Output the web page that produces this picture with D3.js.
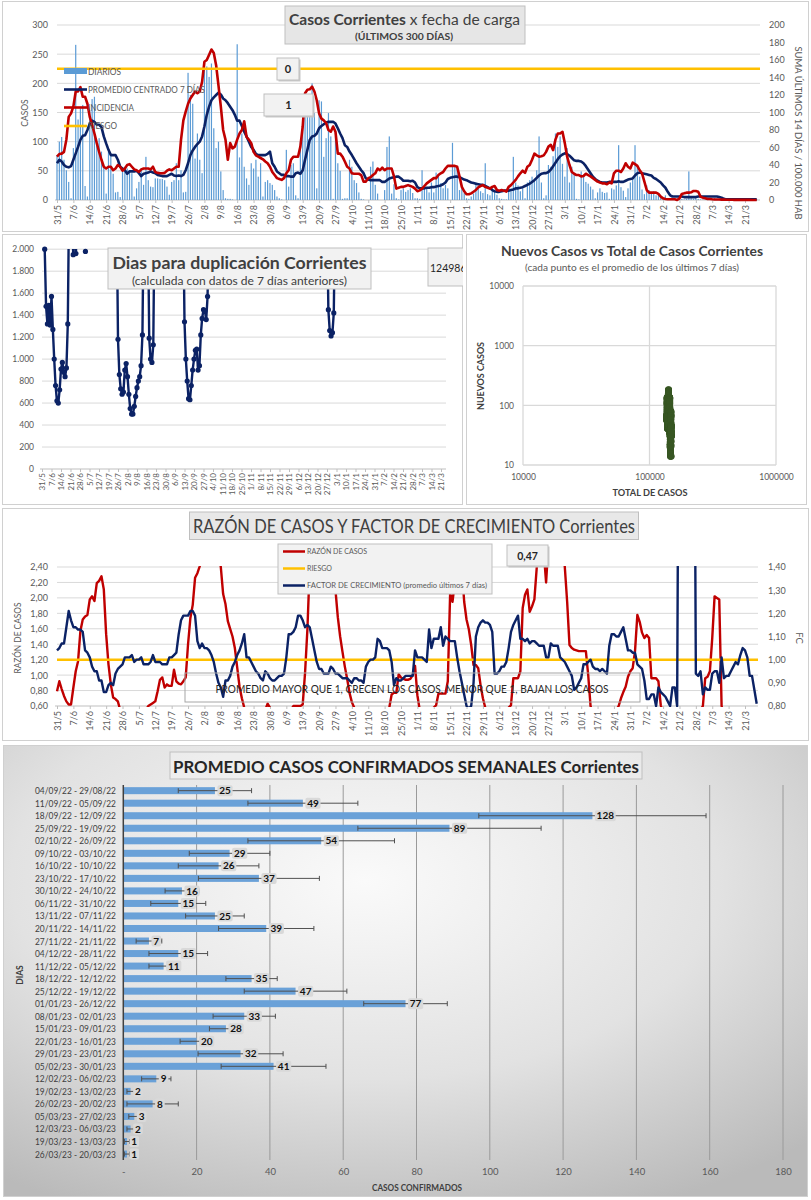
<!DOCTYPE html>
<html>
<head>
<meta charset="utf-8">
<script src="https://cdnjs.cloudflare.com/ajax/libs/d3/7.8.5/d3.min.js"></script>
<style>
body { margin: 0; background: #fff; }
svg text { font-family: Lato, "Liberation Sans", sans-serif; }
</style>
</head>
<body>
<svg id="board" width="811" height="1200"></svg>
<script>
// etiquetas del eje de fechas (una cada 7 dias desde 31/5)
var fechaTicks = ["31/5","7/6","14/6","21/6","28/6","5/7","12/7","19/7","26/7","2/8","9/8","16/8","23/8","30/8",
  "6/9","13/9","20/9","27/9","4/10","11/10","18/10","25/10","1/11","8/11","15/11","22/11","29/11","6/12",
  "13/12","20/12","27/12","3/1","10/1","17/1","24/1","31/1","7/2","14/2","21/2","28/2","7/3","14/3","21/3"];

// casos diarios (300 dias)
var diarios = [
  77,100,108,69,51,31,3,      89,266,138,157,163,24,6,    154,173,177,96,106,83,57,   11,83,80,45,13,14,5,
  51,57,54,51,46,6,20,        31,54,26,74,34,23,22,       37,37,36,36,34,23,9,        31,34,63,34,51,13,14,
  218,180,165,71,114,69,46,   233,229,211,234,123,89,100, 49,17,3,2,2,1,0,            267,73,114,57,37,26,63,
  54,69,40,63,6,31,34,        29,26,17,6,3,1,0,           86,23,60,63,8,3,100,        143,160,143,149,200,149,20,
  171,169,74,106,149,109,2,   109,63,50,2,3,3,69,         57,34,29,13,2,1,0,          0,57,66,26,11,0,0,
  17,91,109,11,27,3,1,        17,20,14,17,20,12,3,        3,2,51,23,20,13,30,         13,47,43,29,20,26,20,
  0,98,60,57,17,25,12,        3,2,6,11,30,20,15,          12,63,10,8,20,15,9,         3,2,1,1,20,15,74,
  30,25,15,20,3,30,34,        40,34,51,109,30,3,8,        60,57,75,114,91,109,62,     40,89,30,57,45,2,1,
  49,40,31,28,23,18,3,        13,20,14,12,13,2,20,        18,25,94,22,16,5,20,        30,35,94,60,40,18,10,
  25,17,13,15,8,9,5,          3,8,2,2,1,0,1,              3,2,1,2,49,3,2,             4,2,1,1,1,2,1,
  1,3,2,1,1,1,0,              1,0,1,1,0,1,0,              1,0,1,0,1,1
];

// promedio centrado 7 dias
var promedio7 = [
  63,69,66,60,57,56,58,  69,80,91,103,110,111,120,  131,136,134,129,129,125,109,  97,86,77,77,77,69,57,
  54,51,45,49,49,49,50,  46,41,45,46,47,49,47,  46,43,42,41,41,41,43,  45,42,41,42,41,43,51,
  63,77,85,91,96,100,109,  126,146,160,171,176,180,184,  181,174,171,166,160,154,146,  136,136,127,117,109,100,91,
  86,79,77,77,77,77,79,  83,63,57,49,46,43,43,  41,41,40,40,46,47,45,  51,69,86,103,109,110,114,
  123,127,130,133,134,134,134,  131,123,114,106,94,91,83,  77,70,63,57,51,46,37,  35,34,34,34,34,34,31,
  31,34,37,38,39,40,40,  37,33,33,33,32,33,30,  22,20,20,20,21,21,22,  22,23,24,25,27,30,36,
  38,39,40,40,39,37,35,  34,32,30,29,28,27,26,  26,24,22,20,17,15,14,  14,15,16,16,16,17,18,
  20,20,21,22,24,26,28,  31,34,38,42,45,46,46,  48,52,58,64,70,75,78,  80,79,76,72,68,67,67,
  66,63,58,52,46,40,36,  33,31,30,30,30,31,31,  31,31,32,31,31,33,35,  36,37,42,46,47,46,45,
  44,43,42,38,36,33,30,  25,21,14,8,6,6,6,  6,6,5,5,5,5,5,  5,6,6,6,6,6,6,
  6,6,6,5,4,2,1,  1,1,1,1,1,1,1,  1,1,1,1,1,1
];

// incidencia: suma ultimos 14 dias / 100.000 hab (eje derecho)
var incidencia = [
  49.5,52.6,53,55,69,95,99,  107,124,124,129,118,118,110,  95,86,76,65,55,46,38,  36,38,38,34,36,40,38,
  33.5,36,40,41,38,35,34,  32,35,36,36,36,35,38,  32,31,30.5,30.5,31,33.5,35,  34,36,38,38,69,91,101,
  110,116,120,124,122,124,135,  158,160,166,172,168,154,131,  107,80,69,46,65,59,61,  69,76,80,90,72,69,65,
  55,51,49.5,48,46.5,44,42,  38,32,28.5,25,24,23,25,  30.5,34,46,49.5,49.5,49.5,61,  84,122,126,126.5,129.5,124,114,
  99,93,91,88,80,78,84,  78,53,53,49.5,44,38,36,  30.5,30,30,30,28.5,21,21,  25,26,28.5,30.5,36,34,37,
  34,36,36,36,27,13,14,  15,15,16,17,16,15,13,  10,11,13,16,19,21,23,  25,25,28.5,30.5,32,36,39,
  39,39,39,38,27,15,10,  6.5,6.5,7.6,9.5,11.4,14.5,16,  17,15,14,13,15,16,11.4,  10.7,11.4,10.7,9.5,15,17,20,
  23,27,30.5,33.5,31,38,40,  46,53,51,49.5,50,51,55,  61,63,57,69,76,76,78,  65,49.5,40,32,30,28.5,28.5,
  27,27.5,30,28.5,27,25,23,  21,20,19,19,18,20,19,  30.5,33.5,33.5,32,36,42,38,  36,42.7,41,39,34,30.5,21,
  11.4,8.4,8.4,8.4,8.4,6.9,3.8,  1.9,1.1,0.8,0.8,0.8,0.8,0,  1.9,6.9,7.6,8.4,8.4,8.8,10.3,  10.3,9.5,3.8,2.7,1.9,1.1,1.1,
  0.8,0.6,0.5,0.5,0.4,0.4,0.3,  0.3,0.3,0.2,0.2,0.2,0.2,0.1,  0.1,0.1,0.1,0,0,0
];
var riesgoIncidencia = 150;
var cajasTop = ["0", "1"];

// dias para duplicacion (solo los tramos visibles; null corta la linea)
var dupDia = [2,3,4,5,6,7,8,9,10,11,12,13,14,15,16,17,18,19,20,21,
  22,23,24,25,26,27, 31,32,33,34,
  55,56,57,58,59,60,61,62,63,64,65,66,67,68,69,70,71,72,73,74,75,76,77,78,79,80,81,82,83,84,
  104,105,106,107,108,109,110,111,112,113,114,115,116,117,118,119,120,121,122,123,124,
  210,211,212,213,214,215,216];
var dupValor = [2000,1480,1320,1490,1310,1570,1270,1000,760,620,600,720,910,970,880,840,920,1320,2500,null,
  2400,1950,2400,1960,2400,null, 2400,1980,2400,null,
  2400,1180,860,730,680,700,900,960,840,680,550,500,500,570,660,740,800,840,940,1220,2400,3000,3000,2400,1190,1000,970,1130,2400,null,
  2400,1340,1000,800,640,630,760,900,1000,1080,1090,900,940,1220,1370,1450,1440,1360,1570,2400,null,
  2400,1450,1260,1210,1240,1420,2400];
var dupTotal = "124986";
var casosPrevios = 136000;

// razon de casos (eje izq.) y factor de crecimiento (eje der.)
var razon = [
  0.79,0.92,0.82,0.73,0.66,0.62,0.62,  0.84,1.05,1.18,1.57,1.72,1.76,1.78,  1.98,2.02,1.96,2.19,2.22,2.28,2.11,  1.53,1.14,0.88,0.71,0.69,0.66,0.55,
  0.5,0.45,0.45,0.4,0.4,0.4,0.45,  0.45,0.5,0.5,0.55,0.6,0.62,0.64,  0.66,0.79,0.94,0.97,0.84,0.88,0.86,  0.86,1.07,0.92,0.89,0.88,0.92,0.97,
  1.40,1.74,1.91,2.26,2.32,2.41,2.7,  3.0,3.2,3.3,3.2,3.0,2.8,2.6,  2.4,2.05,1.92,1.70,1.60,1.50,1.35,  1.10,0.85,0.70,0.58,0.5,0.45,0.45,
  0.45,0.45,0.45,0.5,0.5,0.55,0.63,  0.58,0.5,0.45,0.45,0.45,0.45,0.45,  0.45,0.5,0.55,0.6,0.6,0.6,0.6,  0.62,1.03,1.59,2.41,2.8,3.0,3.2,
  3.3,3.3,3.2,3.0,2.9,2.7,2.5,  2.1,1.75,1.5,1.3,1.11,0.95,0.77,  0.65,0.58,0.5,0.45,0.45,0.45,0.45,  0.45,0.45,0.45,0.45,0.45,0.45,0.5,
  0.5,0.55,0.58,0.75,0.77,0.77,1.01,  0.97,0.95,0.94,0.94,0.95,1.0,1.12,  0.74,0.55,0.5,0.45,0.45,0.5,0.55,  0.58,0.61,0.76,0.76,0.76,0.76,0.92,
  2.06,1.95,2.2,2.5,2.6,2.4,1.95,  1.72,1.59,1.39,1.13,1.13,1.09,0.87,  0.7,0.58,0.5,0.45,0.45,0.45,0.45,  0.45,0.45,0.5,0.55,0.58,0.61,0.96,
  0.96,0.96,1.05,1.87,2.04,2.11,1.82,  1.89,1.98,2.39,2.7,3.0,2.6,2.2,  2.7,3.0,3.1,3.2,3.2,3.0,2.8,  2.4,1.95,1.39,1.35,1.33,1.32,1.31,
  1.31,1.31,1.31,1.0,0.6,0.5,0.45,  0.45,0.45,0.45,0.45,0.45,0.45,0.5,  0.5,0.55,0.6,0.7,0.78,0.85,0.98,  1.05,1.09,1.31,1.78,1.69,1.55,1.48,
  1.52,1.48,0.96,0.96,0.96,0.92,0.61,  0.5,0.45,0.45,0.45,0.45,0.45,0.45,  0.45,0.45,0.45,0.45,0.45,0.45,0.45,  0.45,0.5,0.55,0.6,0.96,0.98,1.05,
  1.48,2.02,2.0,1.98,0.6,0.5,0.45,  0.45,0.45,0.45,0.45,0.45,0.45,0.45,  0.45,0.45,0.45,0.45,0.45,0.45
];
var factorCrec = [
  1.04,1.05,1.07,1.07,1.14,1.21,1.17,  1.14,1.14,1.13,1.13,1.12,1.04,1.03,  1.01,0.97,0.95,0.95,0.91,0.91,0.86,  0.86,0.89,0.90,0.89,0.94,0.96,0.97,
  0.98,1.01,1.01,1.01,1.02,0.99,1.00,  1.00,1.01,0.98,0.98,0.98,0.99,1.02,  0.99,0.99,0.99,0.98,0.98,0.98,1.01,  1.01,1.02,1.03,1.11,1.17,1.19,1.19,
  1.19,1.21,1.21,1.19,1.08,1.05,1.07,  1.05,1.05,1.04,1.02,0.99,0.94,0.90,  0.88,0.84,0.91,0.91,0.93,0.97,0.99,  1.02,1.04,1.07,1.11,1.01,1.01,0.99,
  0.97,0.95,0.94,0.92,0.91,0.95,0.94,  0.92,0.91,0.91,0.92,0.93,0.93,0.94,  1.01,1.11,1.11,1.12,1.14,1.19,1.19,  1.17,1.14,1.15,1.14,1.09,1.04,0.99,
  0.96,0.96,0.94,0.94,0.94,0.97,0.96,  0.94,0.94,0.93,0.92,0.92,0.92,0.91,  0.90,0.92,0.92,0.91,0.91,0.90,0.97,  0.99,1.00,1.00,1.01,1.09,1.08,1.05,
  1.05,1.05,1.04,0.99,0.89,0.92,0.91,  0.91,0.92,0.93,0.93,0.93,0.93,1.04,  1.01,1.01,1.01,1.00,0.99,1.13,1.05,  1.09,1.09,1.09,1.14,1.06,1.10,1.09,
  1.08,1.08,1.08,1.01,0.95,0.90,0.85,  0.80,0.79,0.80,0.90,1.10,1.14,1.16,  1.17,1.16,1.16,1.15,1.12,0.94,0.94,  0.95,0.97,0.97,0.99,1.05,1.12,1.15,
  1.17,1.19,1.09,1.09,1.08,1.09,1.07,  1.08,1.08,1.07,1.06,1.06,1.06,1.01,  1.01,1.07,1.06,1.06,1.06,1.01,1.00,  0.99,0.97,0.95,0.93,0.87,0.88,0.90,
  0.92,0.98,0.98,0.99,1.00,0.97,0.96,  0.96,0.95,0.96,0.95,0.94,1.06,1.11,  1.11,1.10,1.10,1.12,1.14,1.09,1.04,  1.04,1.03,1.03,0.98,0.97,0.96,0.91,
  0.83,0.83,0.85,0.85,0.80,0.88,0.86,  0.85,0.84,0.82,0.80,0.88,0.88,0.80,  3.0,3.0,3.0,3.0,3.0,3.0,3.0,  0.94,0.93,0.95,0.85,0.88,0.87,0.87,
  0.94,0.95,0.95,0.90,1.01,0.92,0.93,  0.93,0.95,0.97,0.99,0.98,1.02,1.05,  1.04,1.01,0.93,0.93,0.87,0.81
];
var riesgoRazon = 1.2;
var valorCaja3 = "0,47";

// promedio semanal de casos confirmados
var semanas = ["04/09/22 - 29/08/22","11/09/22 - 05/09/22","18/09/22 - 12/09/22","25/09/22 - 19/09/22","02/10/22 - 26/09/22",
  "09/10/22 - 03/10/22","16/10/22 - 10/10/22","23/10/22 - 17/10/22","30/10/22 - 24/10/22","06/11/22 - 31/10/22",
  "13/11/22 - 07/11/22","20/11/22 - 14/11/22","27/11/22 - 21/11/22","04/12/22 - 28/11/22","11/12/22 - 05/12/22",
  "18/12/22 - 12/12/22","25/12/22 - 19/12/22","01/01/23 - 26/12/22","08/01/23 - 02/01/23","15/01/23 - 09/01/23",
  "22/01/23 - 16/01/23","29/01/23 - 23/01/23","05/02/23 - 30/01/23","12/02/23 - 06/02/23","19/02/23 - 13/02/23",
  "26/02/23 - 20/02/23","05/03/23 - 27/02/23","12/03/23 - 06/03/23","19/03/23 - 13/03/23","26/03/23 - 20/03/23"];
var promSemanal = [25,49,128,89,54,29,26,37,16,15,25,39,7,15,11,35,47,77,33,28,20,32,41,9,2,8,3,2,1,1];
var errSemanal = [10,15,31,25,20,11,11,16.5,4.6,7.5,8,13,3.5,8,4,7,14,11.4,8.5,4.5,4.5,11.6,14.3,4,1,7,1.5,1,0.7,0.7];

var FONT = "Lato, 'Liberation Sans', sans-serif";
var GRIS = "#595959";
var AZUL = "#0b2265", ROJO = "#c00000", AMARILLO = "#ffc000", CELESTE = "#5b9bd5";
var es = d3.formatLocale({decimal: ",", thousands: ".", grouping: [3], currency: ["$", ""]});
var fmtMiles = es.format(",.0f"), fmtDec = es.format(".2f");

var svg = d3.select("#board");
var defs = svg.append("defs");

function marco(x, y, w, h, fill) {
  return svg.append("rect").attr("x", x).attr("y", y).attr("width", w).attr("height", h)
    .attr("fill", fill || "#fff").attr("stroke", "#d0d0d0");
}
function caja(g, x, y, w, h, fill, sombra) {
  if (sombra) g.append("rect").attr("x", x + 1.5).attr("y", y + 1.5).attr("width", w).attr("height", h).attr("fill", "#c8c8c8");
  return g.append("rect").attr("x", x).attr("y", y).attr("width", w).attr("height", h)
    .attr("fill", fill).attr("stroke", "#bfbfbf");
}
function txt(g, x, y, s, size, o) {
  o = o || {};
  var t = g.append("text").attr("x", x).attr("y", y).text(s)
    .attr("font-size", size).attr("fill", o.fill || GRIS)
    .attr("font-weight", o.weight || "normal")
    .attr("text-anchor", o.anchor || "start");
  if (o.len) t.attr("textLength", o.len).attr("lengthAdjust", "spacingAndGlyphs");
  if (o.rot) t.attr("transform", "rotate(" + o.rot + "," + x + "," + y + ")");
  return t;
}
function recorte(id, x, y, w, h) {
  defs.append("clipPath").attr("id", id).append("rect").attr("x", x).attr("y", y).attr("width", w).attr("height", h);
  return "url(#" + id + ")";
}
function ejeFechas(g, escala, y0, x0, x1, size, pad) {
  g.append("line").attr("x1", x0).attr("x2", x1).attr("y1", y0).attr("y2", y0).attr("stroke", "#bfbfbf");
  var ax = d3.axisBottom(escala).tickValues(fechaTicks.map(function(t, i) { return i * 7; }))
    .tickFormat(function(d, i) { return fechaTicks[i]; }).tickSize(3).tickSizeOuter(0);
  var ge = g.append("g").attr("transform", "translate(0," + y0 + ")").call(ax);
  ge.attr("font-family", FONT).attr("font-size", size);
  ge.select(".domain").remove();
  ge.selectAll(".tick line").attr("stroke", "#bfbfbf");
  ge.selectAll(".tick text").attr("fill", GRIS).attr("y", 0).attr("x", -pad).attr("dy", "0.35em")
    .attr("transform", "rotate(-90)").style("text-anchor", "end");
}
function ejeY(g, eje, x0, size) {
  var ge = g.append("g").attr("transform", "translate(" + x0 + ",0)").call(eje);
  ge.attr("font-family", FONT).attr("font-size", size);
  ge.select(".domain").remove();
  ge.selectAll(".tick text").attr("fill", GRIS);
  return ge;
}

/* ---------- 1. Casos Corrientes x fecha de carga ---------- */
marco(2.5, 1.5, 806, 230);
var g1 = svg.append("g");
var xTop = d3.scaleLinear().domain([0, 294]).range([57, 745]);
var yCasos = d3.scaleLinear().domain([0, 300]).range([200, 25]);
var yInc = d3.scaleLinear().domain([0, 200]).range([200, 25]);

g1.selectAll(".grid1").data(d3.range(50, 301, 50)).join("line")
  .attr("x1", 57).attr("x2", 760).attr("y1", function(d) { return yCasos(d); }).attr("y2", function(d) { return yCasos(d); })
  .attr("stroke", "#d9d9d9");
ejeY(g1, d3.axisLeft(yCasos).tickValues(d3.range(0, 301, 50)).tickSize(0).tickPadding(9), 57, 9);
ejeY(g1, d3.axisRight(yInc).tickValues(d3.range(0, 201, 20)).tickSize(0).tickPadding(9), 760, 9);
ejeFechas(g1, xTop, 200, 55, 760, 9, 5);

g1.selectAll(".barra").data(diarios).join("rect")
  .attr("x", function(d, i) { return xTop(i) - 0.6; }).attr("width", 1.2)
  .attr("y", function(d) { return yCasos(d); }).attr("height", function(d) { return 200 - yCasos(d); })
  .attr("fill", CELESTE);
g1.append("path").datum(promedio7)
  .attr("d", d3.line().x(function(d, i) { return xTop(i); }).y(function(d) { return yCasos(d); }))
  .attr("fill", "none").attr("stroke", AZUL).attr("stroke-width", 2.6).attr("stroke-linejoin", "round");
g1.append("path").datum(incidencia)
  .attr("d", d3.line().x(function(d, i) { return xTop(i); }).y(function(d) { return yInc(d); }))
  .attr("fill", "none").attr("stroke", ROJO).attr("stroke-width", 2.6).attr("stroke-linejoin", "round");
g1.append("line").attr("x1", 57).attr("x2", 760).attr("y1", yInc(riesgoIncidencia)).attr("y2", yInc(riesgoIncidencia))
  .attr("stroke", AMARILLO).attr("stroke-width", 2.5);

// leyenda
g1.append("rect").attr("x", 64).attr("y", 68).attr("width", 23).attr("height", 6).attr("fill", CELESTE);
[[89.5, AZUL, "PROMEDIO CENTRADO 7 DÍAS", 117], [107.5, ROJO, "INCIDENCIA", 46], [126, AMARILLO, "RIESGO", 29]].forEach(function(it) {
  g1.append("line").attr("x1", 64).attr("x2", 87).attr("y1", it[0]).attr("y2", it[0]).attr("stroke", it[1]).attr("stroke-width", 2.6);
  txt(g1, 88, it[0] + 3, it[2], 8.5, {len: it[3]});
});
txt(g1, 88, 74.5, "DIARIOS", 8.5, {len: 33});

caja(g1, 277, 58, 22, 22, "#f2f2f2", true);
txt(g1, 288, 73, cajasTop[0], 11, {anchor: "middle", fill: "#262626", weight: "bold"});
caja(g1, 264, 94, 49, 22, "#f2f2f2", true);
txt(g1, 288.5, 109, cajasTop[1], 11, {anchor: "middle", fill: "#262626", weight: "bold"});

caja(g1, 285, 6, 240, 38, "#e6e6e6");
var t1 = g1.append("text").attr("x", 289).attr("y", 25).attr("font-size", 15.5).attr("fill", "#404040")
  .attr("textLength", 231).attr("lengthAdjust", "spacingAndGlyphs");
t1.append("tspan").attr("font-weight", "bold").text("Casos Corrientes");
t1.append("tspan").text(" x fecha de carga");
txt(g1, 355, 39.5, "(ÚLTIMOS 300 DÍAS)", 9.5, {weight: "bold", fill: "#404040", len: 98});
txt(g1, 28, 113, "CASOS", 8.5, {anchor: "middle", rot: -90});
txt(g1, 795, 133, "SUMA  ÚLTIMOS 14 DÍAS / 100.000 HAB", 9, {anchor: "middle", rot: 90, len: 173});

/* ---------- 2. Dias para duplicacion ---------- */
marco(2.5, 234.5, 460, 270);
var g2 = svg.append("g").attr("clip-path", recorte("cl2", 2, 234, 461, 271));
var xDup = d3.scaleLinear().domain([0, 294]).range([42, 441]);
var yDup = d3.scaleLinear().domain([0, 2000]).range([469, 249.2]);
g2.selectAll(".grid2").data(d3.range(200, 2001, 200)).join("line")
  .attr("x1", 42).attr("x2", 446).attr("y1", function(d) { return yDup(d); }).attr("y2", function(d) { return yDup(d); })
  .attr("stroke", "#d9d9d9");
ejeY(g2, d3.axisLeft(yDup).tickValues(d3.range(0, 2001, 200)).tickFormat(fmtMiles).tickSize(0).tickPadding(8), 42, 8.5);
ejeFechas(g2, xDup, 469, 40, 446, 8, 4);

var dupPuntos = dupDia.map(function(d, i) { return [d, dupValor[i]]; });
var gDup = g2.append("g").attr("clip-path", recorte("cl2b", 38, 249, 412, 222));
gDup.append("path").datum(dupPuntos)
  .attr("d", d3.line().defined(function(p) { return p[1] !== null; })
    .x(function(p) { return xDup(p[0]); }).y(function(p) { return yDup(p[1]); }))
  .attr("fill", "none").attr("stroke", AZUL).attr("stroke-width", 2.4).attr("stroke-linejoin", "round");
g2.selectAll(".pto").data(dupPuntos.filter(function(p) { return p[1] !== null && p[1] <= 2000; })).join("circle")
  .attr("cx", function(p) { return xDup(p[0]); }).attr("cy", function(p) { return yDup(p[1]); })
  .attr("r", 2.6).attr("fill", AZUL);

caja(g2, 108, 248, 263, 41, "#f2f2f2");
txt(g2, 239.5, 269, "Dias para duplicación Corrientes", 17.5, {anchor: "middle", weight: "bold", fill: "#404040", len: 254});
txt(g2, 239.5, 285, "(calculada con datos de 7 días anteriores)", 11, {anchor: "middle", fill: "#404040", len: 215});
caja(g2, 428, 248, 40, 38, "#f2f2f2");
txt(g2, 430, 272, dupTotal, 10.5, {fill: "#262626"});

/* ---------- 3. Nuevos casos vs total ---------- */
marco(466.5, 234.5, 340, 270);
var g3 = svg.append("g");
var xTot = d3.scaleLog().domain([1e4, 1e6]).range([523, 776]);
var yNue = d3.scaleLog().domain([10, 1e4]).range([465, 286]);
[1e4, 1e5, 1e6].forEach(function(v) {
  g3.append("line").attr("x1", xTot(v)).attr("x2", xTot(v)).attr("y1", 286).attr("y2", 465).attr("stroke", "#d9d9d9").attr("stroke-width", 1.3);
});
[10, 100, 1000, 1e4].forEach(function(v) {
  g3.append("line").attr("x1", 523).attr("x2", 776).attr("y1", yNue(v)).attr("y2", yNue(v)).attr("stroke", "#d9d9d9").attr("stroke-width", 1.3);
});
ejeY(g3, d3.axisLeft(yNue).tickValues([10, 100, 1000, 1e4]).tickFormat(d3.format("d")).tickSize(0).tickPadding(9), 523, 8.5);
var gx3 = g3.append("g").attr("transform", "translate(0,465)")
  .call(d3.axisBottom(xTot).tickValues([1e4, 1e5, 1e6]).tickFormat(d3.format("d")).tickSize(0).tickPadding(9));
gx3.attr("font-family", FONT).attr("font-size", 8.5);
gx3.select(".domain").remove();
gx3.selectAll("text").attr("fill", GRIS);

var acumulado = [], suma = casosPrevios;
diarios.forEach(function(v) { suma += v; acumulado.push(suma); });
var puntos = promedio7.map(function(v, i) { return [acumulado[i], v]; }).filter(function(p) { return p[1] >= 10; });
g3.selectAll(".sc").data(puntos).join("circle")
  .attr("cx", function(p) { return xTot(p[0]); }).attr("cy", function(p) { return yNue(p[1]); })
  .attr("r", 3.4).attr("fill", "#375623");

txt(g3, 632, 256, "Nuevos Casos vs Total de Casos Corrientes", 13.5, {anchor: "middle", weight: "bold", fill: "#404040", len: 262});
txt(g3, 632, 271, "(cada punto es el promedio de los últimos 7 días)", 9, {anchor: "middle", fill: GRIS, len: 214});
txt(g3, 484, 376, "NUEVOS CASOS", 9, {anchor: "middle", weight: "bold", fill: "#404040", rot: -90, len: 68});
txt(g3, 650, 496, "TOTAL DE CASOS", 9, {anchor: "middle", weight: "bold", fill: "#404040", len: 75});

/* ---------- 4. Razon de casos y factor de crecimiento ---------- */
marco(2.5, 508.5, 806, 232);
var g4 = svg.append("g");
var xRaz = d3.scaleLinear().domain([0, 294]).range([57, 745]);
var yRaz = d3.scaleLinear().domain([0.6, 2.4]).range([706, 567]);
var yFc = d3.scaleLinear().domain([0.8, 1.4]).range([706, 567]);
g4.selectAll(".grid4").data(d3.range(0.8, 2.41, 0.2)).join("line")
  .attr("x1", 57).attr("x2", 758).attr("y1", function(d) { return yRaz(d); }).attr("y2", function(d) { return yRaz(d); })
  .attr("stroke", "#d9d9d9");
ejeY(g4, d3.axisLeft(yRaz).tickValues(d3.range(0.6, 2.41, 0.2)).tickFormat(fmtDec).tickSize(0).tickPadding(9), 57, 9);
ejeY(g4, d3.axisRight(yFc).tickValues(d3.range(0.8, 1.41, 0.1)).tickFormat(fmtDec).tickSize(0).tickPadding(10), 758, 9);
ejeFechas(g4, xRaz, 706, 55, 758, 9, 5);

var gLin = g4.append("g").attr("clip-path", recorte("cl4", 55, 566, 705, 141));
gLin.append("path").datum(razon)
  .attr("d", d3.line().x(function(d, i) { return xRaz(i); }).y(function(d) { return yRaz(d); }))
  .attr("fill", "none").attr("stroke", ROJO).attr("stroke-width", 2.4).attr("stroke-linejoin", "round");
gLin.append("line").attr("x1", 57).attr("x2", 758).attr("y1", yRaz(riesgoRazon)).attr("y2", yRaz(riesgoRazon))
  .attr("stroke", AMARILLO).attr("stroke-width", 2.5);
gLin.append("path").datum(factorCrec)
  .attr("d", d3.line().x(function(d, i) { return xRaz(i); }).y(function(d) { return yFc(d); }))
  .attr("fill", "none").attr("stroke", AZUL).attr("stroke-width", 2.4).attr("stroke-linejoin", "round");

g4.append("rect").attr("x", 185).attr("y", 673).attr("width", 455).attr("height", 29).attr("fill", "none").attr("stroke", "#a6a6a6");
txt(g4, 412, 693, "PROMEDIO MAYOR QUE 1, CRECEN LOS CASOS, MENOR QUE 1, BAJAN LOS CASOS", 11.5, {anchor: "middle", fill: "#262626", len: 393});

caja(g4, 278, 544, 214, 50, "#f2f2f2");
[[551.5, ROJO, "RAZÓN DE CASOS", 60], [568.5, AMARILLO, "RIESGO", 25], [585.5, AZUL, "FACTOR DE CRECIMIENTO (promedio últimos 7 días)", 180]].forEach(function(it) {
  g4.append("line").attr("x1", 283).attr("x2", 305).attr("y1", it[0]).attr("y2", it[0]).attr("stroke", it[1]).attr("stroke-width", 2.5);
  txt(g4, 307, it[0] + 2.8, it[2], 7.8, {len: it[3]});
});
caja(g4, 507, 545, 41, 21, "#f2f2f2", true);
txt(g4, 527.5, 559.5, valorCaja3, 10.5, {anchor: "middle", fill: "#262626", weight: "bold"});

caja(g4, 189.5, 512, 449, 27.5, "#e8e8e8");
txt(g4, 414, 532.5, "RAZÓN DE CASOS Y FACTOR DE CRECIMIENTO Corrientes", 18.5, {anchor: "middle", fill: "#404040", len: 442});
txt(g4, 21, 638, "RAZÓN DE CASOS", 9.5, {anchor: "middle", rot: -90, len: 71});
txt(g4, 796, 638, "FC", 9.5, {anchor: "middle", rot: 90});

/* ---------- 5. Promedio casos confirmados semanales ---------- */
var grad = defs.append("radialGradient").attr("id", "fondo5").attr("cx", "0.45").attr("cy", "0.3").attr("r", "0.8");
grad.append("stop").attr("offset", "0").attr("stop-color", "#fafafa");
grad.append("stop").attr("offset", "0.55").attr("stop-color", "#e2e2e2");
grad.append("stop").attr("offset", "1").attr("stop-color", "#bababa");
marco(3.5, 745.5, 804, 451, "url(#fondo5)");
var g5 = svg.append("g");
var xSem = d3.scaleLinear().domain([0, 180]).range([123.3, 783]);
var ySem = d3.scaleBand().domain(semanas).range([784.4, 1160.3]).paddingInner(0.44).paddingOuter(0.22);

g5.selectAll(".grid5").data(d3.range(20, 181, 20)).join("line")
  .attr("x1", function(d) { return xSem(d); }).attr("x2", function(d) { return xSem(d); })
  .attr("y1", 785).attr("y2", 1160).attr("stroke", "#9a9a9a");
var gx5 = g5.append("g").attr("transform", "translate(0,1162)")
  .call(d3.axisBottom(xSem).tickValues(d3.range(0, 181, 20)).tickFormat(function(d) { return d === 0 ? "-" : d; }).tickSize(0).tickPadding(6));
gx5.attr("font-family", FONT).attr("font-size", 9.5);
gx5.select(".domain").remove();
gx5.selectAll("text").attr("fill", GRIS);

g5.selectAll(".bar5").data(promSemanal).join("rect")
  .attr("x", xSem(0)).attr("y", function(d, i) { return ySem(semanas[i]); })
  .attr("width", function(d) { return xSem(d) - xSem(0); }).attr("height", ySem.bandwidth())
  .attr("fill", "#6aa1d8");
g5.append("line").attr("x1", xSem(0)).attr("x2", xSem(0)).attr("y1", 785).attr("y2", 1160).attr("stroke", "#404040").attr("stroke-width", 1.5);

promSemanal.forEach(function(v, i) {
  var yc = ySem(semanas[i]) + ySem.bandwidth() / 2;
  var e = errSemanal[i];
  var xa = xSem(Math.max(0, v - e)), xb = xSem(v + e);
  g5.append("line").attr("x1", xa).attr("x2", xb).attr("y1", yc).attr("y2", yc).attr("stroke", "#505050").attr("stroke-width", 1);
  [xa, xb].forEach(function(xx) {
    g5.append("line").attr("x1", xx).attr("x2", xx).attr("y1", yc - 2.5).attr("y2", yc + 2.5).attr("stroke", "#505050");
  });
  txt(g5, 35, yc + 3.5, semanas[i], 10, {fill: "#404040", len: 81});
});
promSemanal.forEach(function(v, i) {
  var yc = ySem(semanas[i]) + ySem.bandwidth() / 2;
  var x0 = xSem(v) + 2.5;
  var s = String(v);
  var w = s.length * 5.6 + 4;
  g5.append("rect").attr("x", x0).attr("y", yc - 5.5).attr("width", w).attr("height", 11).attr("rx", 2).attr("fill", "#d9d9d9");
  txt(g5, x0 + w / 2, yc + 3.6, s, 10, {anchor: "middle", fill: "#111", weight: "bold"});
});

g5.append("rect").attr("x", 170).attr("y", 752).attr("width", 472).attr("height", 27).attr("fill", "rgba(255,255,255,0.25)").attr("stroke", "#bfbfbf");
txt(g5, 406, 772.5, "PROMEDIO CASOS CONFIRMADOS SEMANALES Corrientes", 17.5, {anchor: "middle", weight: "bold", fill: "#262626", len: 466});
txt(g5, 417, 1191, "CASOS CONFIRMADOS", 8.5, {anchor: "middle", weight: "bold", fill: "#404040", len: 90});
txt(g5, 23, 975, "DIAS", 8.5, {anchor: "middle", weight: "bold", fill: "#404040", rot: -90});
</script>
</body>
</html>
